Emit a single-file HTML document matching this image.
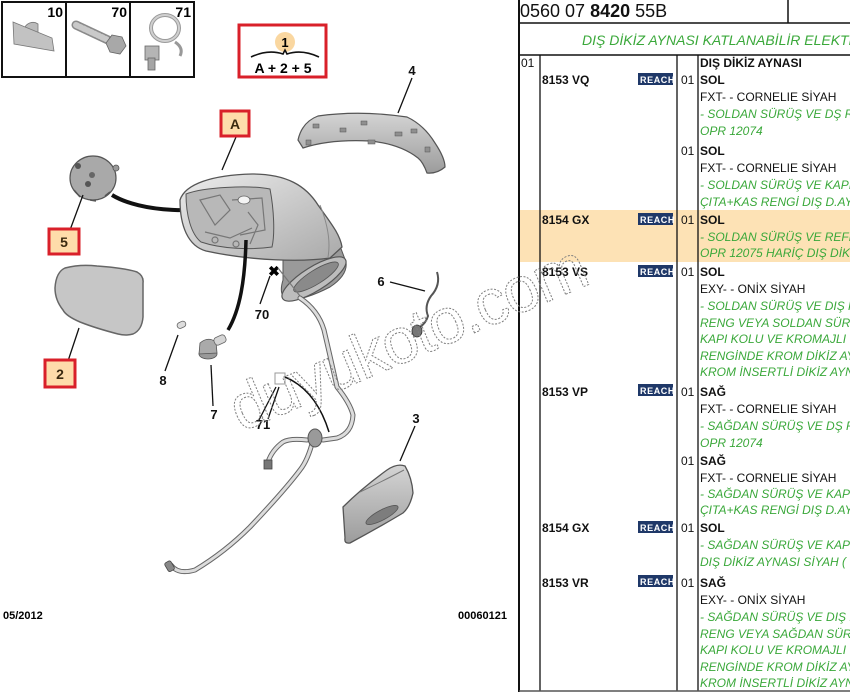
<!DOCTYPE html>
<html><head><meta charset="utf-8"><style>
html,body{margin:0;padding:0;background:#fff;}
svg{display:block;}
text{font-family:"Liberation Sans",Arial,sans-serif;}
.b{font-weight:bold;}
.t{font-size:12px;fill:#111;}
.g{font-size:12px;fill:#3aa83a;font-style:italic;}
.lbl{font-size:13px;font-weight:bold;fill:#111;text-anchor:middle;}
.bx{font-size:14px;font-weight:bold;fill:#3a2a10;text-anchor:middle;}
.ld{stroke:#111;stroke-width:1.3;fill:none;}
.rb{fill:#1f3868;}
.rt{font-size:9px;font-weight:bold;fill:#fff;letter-spacing:0.6px;}
</style></head><body>
<svg width="850" height="693" viewBox="0 0 850 693" xmlns="http://www.w3.org/2000/svg">
<defs>
<linearGradient id="gh" x1="0" y1="0" x2="1" y2="1"><stop offset="0" stop-color="#ececec"/><stop offset="1" stop-color="#a9a9a9"/></linearGradient>
<linearGradient id="gp" x1="0" y1="0" x2="0" y2="1"><stop offset="0" stop-color="#d4d4d4"/><stop offset="1" stop-color="#9c9c9c"/></linearGradient>
</defs>

<!-- ===== top icon boxes ===== -->
<rect x="2" y="2" width="192" height="75" fill="#fff" stroke="#111" stroke-width="2"/>
<line x1="66" y1="2" x2="66" y2="77" stroke="#111" stroke-width="2"/>
<line x1="130" y1="2" x2="130" y2="77" stroke="#111" stroke-width="2"/>
<text x="63" y="17" class="b" font-size="14" text-anchor="end">10</text>
<text x="127" y="17" class="b" font-size="14" text-anchor="end">70</text>
<text x="191" y="17" class="b" font-size="14" text-anchor="end">71</text>
<!-- icon 10 -->
<path d="M24,30 A9,9 0 0 1 38,24 L38,34 Z" fill="#bbb" stroke="#777" stroke-width="0.8"/>
<polygon points="13,22 52,38 54,51 14,44" fill="#c2c2c2" stroke="#777" stroke-width="0.8"/>
<!-- icon 70 -->
<line x1="76" y1="25" x2="108" y2="40" stroke="#8a8a8a" stroke-width="9" stroke-linecap="round"/>
<line x1="76" y1="25" x2="108" y2="40" stroke="#c9c9c9" stroke-width="6" stroke-dasharray="2,2" stroke-linecap="round"/>
<polygon points="112,35 122,37 126,46 120,54 110,52 106,43" fill="#a8a8a8" stroke="#666" stroke-width="0.8"/>
<!-- icon 71 -->
<ellipse cx="165" cy="28" rx="14" ry="13" fill="none" stroke="#9a9a9a" stroke-width="4"/>
<ellipse cx="165" cy="28" rx="14" ry="13" fill="none" stroke="#d0d0d0" stroke-width="2"/>
<rect x="145" y="46" width="14" height="14" fill="#b5b5b5" stroke="#666" stroke-width="0.8"/>
<rect x="148" y="58" width="7" height="12" fill="#a5a5a5" stroke="#666" stroke-width="0.8"/>
<path d="M175,42 Q184,48 180,56" fill="none" stroke="#999" stroke-width="3"/>

<!-- ===== red box 1 = A+2+5 ===== -->
<rect x="239" y="25" width="87" height="52" fill="#fff" stroke="#d9202a" stroke-width="3"/>
<circle cx="285" cy="42" r="10" fill="#fad7a0"/>
<text x="285" y="47" class="b" font-size="13" text-anchor="middle">1</text>
<path d="M251,57 Q268,49 283,54 L285,50 L287,54 Q302,49 319,57" fill="none" stroke="#111" stroke-width="1.6"/>
<text x="283" y="73" class="b" font-size="14" text-anchor="middle">A + 2 + 5</text>

<!-- ===== part 4 cap ===== -->
<path d="M298,140 Q302,122 318,116 Q360,110 407,117 Q424,125 435,143 Q445,158 445,167 Q437,174 427,173 Q423,162 418,158 Q400,144 370,141 Q330,139 303,148 Z" fill="url(#gp)" stroke="#555" stroke-width="1.2"/>
<g fill="#8f8f8f" stroke="#555" stroke-width="0.5">
<rect x="313" y="124" width="6" height="4"/><rect x="340" y="128" width="6" height="4"/><rect x="361" y="121" width="6" height="4"/>
<rect x="368" y="140" width="7" height="4"/><rect x="395" y="132" width="7" height="4"/><rect x="411" y="129" width="6" height="4"/>
<rect x="306" y="140" width="5" height="5"/><rect x="425" y="147" width="5" height="5"/>
</g>
<line class="ld" x1="412" y1="78" x2="398" y2="113"/>
<text x="412" y="75" class="lbl">4</text>

<!-- ===== part 5 motor ===== -->
<ellipse cx="93" cy="178" rx="23" ry="22" fill="#a9a9a9" stroke="#555" stroke-width="1.2"/>
<circle cx="78" cy="166" r="3" fill="#555"/><circle cx="92" cy="175" r="3" fill="#666"/><circle cx="88" cy="184" r="3" fill="#555"/>
<circle cx="116" cy="168" r="3" fill="#999" stroke="#555" stroke-width="0.8"/>
<path d="M74,190 L80,197 M90,200 L96,201 M105,196 L110,192" stroke="#555" stroke-width="1.5"/>
<path d="M112,195 C140,212 200,216 246,200" fill="none" stroke="#111" stroke-width="4"/>
<line class="ld" x1="83" y1="195" x2="70" y2="230"/>
<rect x="49" y="229" width="30" height="25" fill="#fedcaa" stroke="#d9202a" stroke-width="3"/>
<text x="64" y="247" class="bx">5</text>

<!-- ===== main mirror housing ===== -->
<path d="M283,256 Q300,250 318,252 L340,246 L346,262 Q348,275 330,287 Q305,300 288,300 Q278,296 283,280 Z" fill="#9a9a9a" stroke="#555" stroke-width="1"/>
<path d="M180,200 C185,184 212,175 252,174 C287,174 306,186 318,205 C330,222 340,234 342,247 L330,258 C302,262 252,261 206,251 C188,246 180,226 180,200 Z" fill="url(#gh)" stroke="#555" stroke-width="1.3"/>
<path d="M186,194 C204,187 250,185 270,189 C274,210 275,234 272,247 C250,250 222,249 201,242 C191,234 186,215 186,194 Z" fill="#b8b8b8" stroke="#555" stroke-width="1"/>
<g fill="none" stroke="#777" stroke-width="1.2">
<path d="M200,200 L220,195 L230,210 L215,225 Z"/><path d="M232,200 L262,198 L265,230 L240,235"/>
<path d="M205,232 L230,238 L252,228"/><path d="M248,212 L258,225 L250,244"/>
<circle cx="215" cy="240" r="3"/><circle cx="236" cy="244" r="3"/>
</g>
<ellipse cx="244" cy="200" rx="6" ry="4" fill="#f4f4f4" stroke="#666" stroke-width="0.8"/>
<path d="M320,205 Q332,235 328,257" fill="none" stroke="#888" stroke-width="1"/>
<!-- base plate -->
<ellipse cx="314" cy="279" rx="37" ry="12" transform="rotate(-32 314 279)" fill="#bdbdbd" stroke="#555" stroke-width="1.2"/>
<ellipse cx="316" cy="277" rx="26" ry="7" transform="rotate(-32 316 277)" fill="#8a8a8a" stroke="#555" stroke-width="0.8"/>
<line class="ld" x1="236" y1="137" x2="222" y2="170"/>
<rect x="221" y="111" width="28" height="25" fill="#fedcaa" stroke="#d9202a" stroke-width="3"/>
<text x="235" y="129" class="bx">A</text>
<!-- cable to part 7 -->
<path d="M246,240 C245,280 240,310 228,330" fill="none" stroke="#111" stroke-width="3.5"/>

<!-- 70 mark -->
<text x="274" y="276" class="b" font-size="14" text-anchor="middle">✖</text>
<line x1="278" y1="268" x2="300" y2="296" stroke="#777" stroke-width="1.2"/>
<line class="ld" x1="270" y1="276" x2="260" y2="304"/>
<text x="262" y="319" class="lbl">70</text>

<!-- ===== part 2 glass ===== -->
<path d="M55,288 Q56,272 65,268 Q80,264 97,266 Q125,268 137,272 Q144,276 143,283 L143,317 Q142,330 133,334 Q126,336 118,334 Q95,328 80,322 Q66,316 63,310 Q55,300 55,288 Z" fill="#c6c6c6" stroke="#666" stroke-width="1.5"/>
<line class="ld" x1="79" y1="328" x2="68" y2="361"/>
<rect x="45" y="360" width="30" height="27" fill="#fedcaa" stroke="#d9202a" stroke-width="3"/>
<text x="60" y="379" class="bx">2</text>

<!-- ===== part 8 / 7 ===== -->
<rect x="177" y="322" width="9" height="6" rx="3" transform="rotate(-25 181 325)" fill="#ddd" stroke="#666" stroke-width="0.8"/>
<line class="ld" x1="178" y1="335" x2="165" y2="371"/>
<text x="163" y="385" class="lbl">8</text>
<ellipse cx="208" cy="354" rx="9" ry="5" fill="#999" stroke="#555" stroke-width="0.8"/>
<path d="M199,354 L200,343 Q208,336 216,342 L217,353 Z" fill="#aaa" stroke="#555" stroke-width="0.8"/>
<rect x="214" y="336" width="12" height="8" rx="3" transform="rotate(-25 220 340)" fill="#d5d5d5" stroke="#666" stroke-width="0.8"/>
<line class="ld" x1="211" y1="365" x2="213" y2="406"/>
<text x="214" y="419" class="lbl">7</text>

<!-- ===== harness ===== -->
<g fill="none" stroke-linecap="round" stroke-linejoin="round">
<path d="M300,298 Q318,310 324,330 Q331,360 337,387 Q350,403 353,415 Q352,433 337,438 L323,440 M313,440 Q308,460 300,470 Q285,490 250,527 Q225,552 195,570 Q178,575 171,565 M307,440 Q290,438 283,442 Q272,450 268,462" stroke="#666" stroke-width="5"/>
<path d="M300,298 Q318,310 324,330 Q331,360 337,387 Q350,403 353,415 Q352,433 337,438 L323,440 M313,440 Q308,460 300,470 Q285,490 250,527 Q225,552 195,570 Q178,575 171,565 M307,440 Q290,438 283,442 Q272,450 268,462" stroke="#dcdcdc" stroke-width="3"/>
</g>
<ellipse cx="315" cy="438" rx="7" ry="9" fill="#9a9a9a" stroke="#555" stroke-width="1"/>
<rect x="264" y="460" width="8" height="9" fill="#777" stroke="#444" stroke-width="0.8"/>
<rect x="166" y="561" width="7" height="10" rx="2" transform="rotate(-30 170 566)" fill="#888" stroke="#444" stroke-width="0.8"/>

<!-- 71 -->
<rect x="275" y="373" width="10" height="11" fill="#fff" stroke="#999" stroke-width="1"/>
<path d="M285,377 Q316,390 329,432" fill="none" stroke="#111" stroke-width="1.5"/>
<path d="M259,420 L276,387 M268,419 L279,387" class="ld"/>
<text x="263" y="429" class="lbl">71</text>

<!-- ===== part 6 ===== -->
<path d="M437,272 Q441,285 431,296 Q424,306 428,316 Q426,323 420,327" fill="none" stroke="#555" stroke-width="2"/>
<ellipse cx="417" cy="331" rx="5" ry="6" fill="#777" stroke="#333" stroke-width="0.8"/>
<line class="ld" x1="390" y1="282" x2="425" y2="291"/>
<text x="381" y="286" class="lbl">6</text>

<!-- ===== part 3 ===== -->
<path d="M343,507 Q362,488 387,470 Q397,463 405,466 Q412,478 413,493 Q410,507 403,513 Q378,528 350,543 Q344,544 345,538 Z" fill="url(#gp)" stroke="#555" stroke-width="1.3"/>
<ellipse cx="382" cy="515" rx="18" ry="5" transform="rotate(-28 382 515)" fill="#7d7d7d" stroke="#555" stroke-width="0.8"/>
<path d="M360,492 Q385,480 404,470" fill="none" stroke="#777" stroke-width="1"/>
<line class="ld" x1="415" y1="426" x2="400" y2="461"/>
<text x="416" y="423" class="lbl">3</text>

<!-- footer -->
<text x="3" y="619" class="b" font-size="11">05/2012</text>
<text x="507" y="619" class="b" font-size="11" text-anchor="end">00060121</text>

<!-- ===== table ===== -->
<rect x="519" y="210" width="331" height="52" fill="#fde2b5"/>
<line x1="519" y1="0" x2="519" y2="692" stroke="#111" stroke-width="2"/>
<line x1="519" y1="23" x2="850" y2="23" stroke="#111" stroke-width="1.5"/>
<line x1="788" y1="0" x2="788" y2="23" stroke="#111" stroke-width="1.5"/>
<line x1="519" y1="55" x2="850" y2="55" stroke="#111" stroke-width="1.5"/>
<line x1="540" y1="55" x2="540" y2="691" stroke="#111" stroke-width="1.3"/>
<line x1="677" y1="55" x2="677" y2="691" stroke="#111" stroke-width="1.3"/>
<line x1="698" y1="55" x2="698" y2="691" stroke="#111" stroke-width="1.3"/>
<line x1="519" y1="691" x2="850" y2="691" stroke="#555" stroke-width="1.5"/>

<text x="520" y="17" font-size="18" fill="#111">0560 07 <tspan font-weight="bold">8420</tspan> 55B</text>
<text x="582" y="45" font-size="14" fill="#3aa83a" font-style="italic">DIŞ DİKİZ AYNASI KATLANABİLİR ELEKTRİKLİ</text>

<text x="521" y="67" class="t">01</text>
<text x="700" y="67" class="t b">DIŞ DİKİZ AYNASI</text>

<!-- row VQ -->
<text x="542" y="84" class="t b">8153 VQ</text>
<rect x="638" y="73" width="35" height="12" class="rb"/><text x="640" y="83" class="rt">REACH</text>
<text x="681" y="84" class="t">01</text><text x="700" y="84" class="t b">SOL</text>
<text x="700" y="101" class="t">FXT- - CORNELIE SİYAH</text>
<text x="700" y="118" class="g">- SOLDAN SÜRÜŞ VE DŞ RENK</text>
<text x="700" y="135" class="g">OPR 12074</text>
<text x="681" y="155" class="t">01</text><text x="700" y="155" class="t b">SOL</text>
<text x="700" y="172" class="t">FXT- - CORNELIE SİYAH</text>
<text x="700" y="189" class="g">- SOLDAN SÜRÜŞ VE KAPI</text>
<text x="700" y="206" class="g">ÇITA+KAS RENGİ DIŞ D.AYNA</text>

<!-- row 8154 GX -->
<text x="542" y="224" class="t b">8154 GX</text>
<rect x="638" y="213" width="35" height="12" class="rb"/><text x="640" y="223" class="rt">REACH</text>
<text x="681" y="224" class="t">01</text><text x="700" y="224" class="t b">SOL</text>
<text x="700" y="241" class="g">- SOLDAN SÜRÜŞ VE REFERANS</text>
<text x="700" y="257" class="g">OPR 12075 HARİÇ DIŞ DİKİZ</text>

<!-- row VS -->
<text x="542" y="276" class="t b">8153 VS</text>
<rect x="638" y="265" width="35" height="12" class="rb"/><text x="640" y="275" class="rt">REACH</text>
<text x="681" y="276" class="t">01</text><text x="700" y="276" class="t b">SOL</text>
<text x="700" y="293" class="t">EXY- - ONİX SİYAH</text>
<text x="700" y="310" class="g">- SOLDAN SÜRÜŞ VE DIŞ KAPI</text>
<text x="700" y="327" class="g">RENG VEYA SOLDAN SÜRÜŞ</text>
<text x="700" y="343" class="g">KAPI KOLU VE KROMAJLI</text>
<text x="700" y="360" class="g">RENGİNDE KROM DİKİZ AYNA</text>
<text x="700" y="376" class="g">KROM İNSERTLİ DİKİZ AYNA</text>

<!-- row VP -->
<text x="542" y="396" class="t b">8153 VP</text>
<rect x="638" y="384" width="35" height="12" class="rb"/><text x="640" y="394" class="rt">REACH</text>
<text x="681" y="396" class="t">01</text><text x="700" y="396" class="t b">SAĞ</text>
<text x="700" y="413" class="t">FXT- - CORNELIE SİYAH</text>
<text x="700" y="430" class="g">- SAĞDAN SÜRÜŞ VE DŞ RENK</text>
<text x="700" y="447" class="g">OPR 12074</text>
<text x="681" y="465" class="t">01</text><text x="700" y="465" class="t b">SAĞ</text>
<text x="700" y="482" class="t">FXT- - CORNELIE SİYAH</text>
<text x="700" y="498" class="g">- SAĞDAN SÜRÜŞ VE KAPI</text>
<text x="700" y="514" class="g">ÇITA+KAS RENGİ DIŞ D.AYNA</text>

<!-- row 8154 GX (2) -->
<text x="542" y="532" class="t b">8154 GX</text>
<rect x="638" y="521" width="35" height="12" class="rb"/><text x="640" y="531" class="rt">REACH</text>
<text x="681" y="532" class="t">01</text><text x="700" y="532" class="t b">SOL</text>
<text x="700" y="549" class="g">- SAĞDAN SÜRÜŞ VE KAPI</text>
<text x="700" y="566" class="g">DIŞ DİKİZ AYNASI SİYAH (</text>

<!-- row VR -->
<text x="542" y="587" class="t b">8153 VR</text>
<rect x="638" y="575" width="35" height="12" class="rb"/><text x="640" y="585" class="rt">REACH</text>
<text x="681" y="587" class="t">01</text><text x="700" y="587" class="t b">SAĞ</text>
<text x="700" y="604" class="t">EXY- - ONİX SİYAH</text>
<text x="700" y="621" class="g">- SAĞDAN SÜRÜŞ VE DIŞ KAPI</text>
<text x="700" y="638" class="g">RENG VEYA SAĞDAN SÜRÜŞ</text>
<text x="700" y="654" class="g">KAPI KOLU VE KROMAJLI</text>
<text x="700" y="671" class="g">RENGİNDE KROM DİKİZ AYNA</text>
<text x="700" y="687" class="g">KROM İNSERTLİ DİKİZ AYNA</text>

<!-- watermark -->
<text x="241" y="432" font-size="64" fill="none" stroke="#808080" stroke-width="1" stroke-dasharray="2,1.5" textLength="382" lengthAdjust="spacing" transform="rotate(-23 241 432)">duyukoto.com</text>
</svg>
</body></html>
